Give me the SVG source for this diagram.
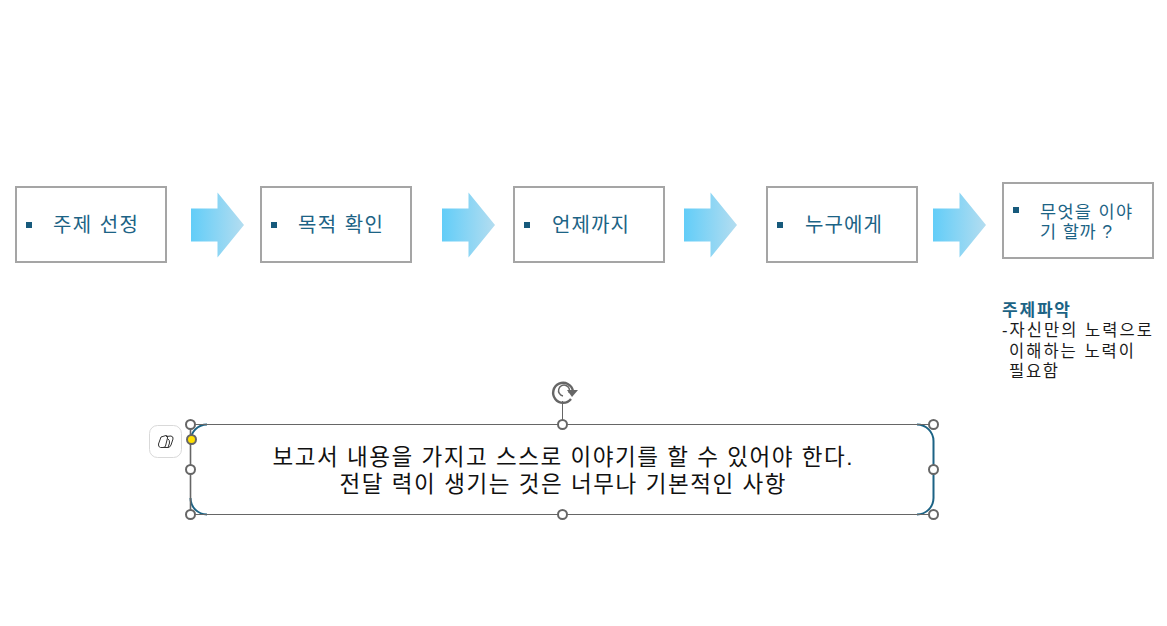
<svg xmlns="http://www.w3.org/2000/svg" width="1167" height="626" viewBox="0 0 1167 626">
<style>
text{font-family:"Liberation Sans","Noto Sans CJK KR",sans-serif}
.box{fill:#fff;stroke:#a5a5a5;stroke-width:2}
.t{font-size:20px;fill:#1c6385}
.b{fill:#175a7c}
.arrow{fill:url(#g)}
.h{fill:#fff;stroke:#666;stroke-width:2}
.n{font-size:16.5px;fill:#1a1a1a}
.m{font-size:22.5px;fill:#111;text-anchor:middle}
</style>
<defs><linearGradient id="g"><stop offset="0" stop-color="#62cdf8"/><stop offset="1" stop-color="#b4ddf0"/></linearGradient></defs>
<rect width="1167" height="626" fill="#fff"/>
<g id="connectors">
<path class="arrow" d="M191 208.500H217.500V192.500L244 225L217.500 257.500V241.500H191Z"/>
<path class="arrow" d="M442 208.500H468.500V192.500L495 225L468.500 257.500V241.500H442Z"/>
<path class="arrow" d="M684 208.500H710.500V192.500L737 225L710.500 257.500V241.500H684Z"/>
<path class="arrow" d="M933 208.500H959.500V192.500L986 225L959.500 257.500V241.500H933Z"/>
</g>
<g id="n1"><rect class="box" x="16" y="187" width="150" height="75"/><rect class="b" x="26" y="222" width="6" height="6"/><text class="t" x="53" y="232" textLength="85">주제 선정</text></g>
<g id="n2"><rect class="box" x="261" y="187" width="150" height="75"/><rect class="b" x="271" y="222" width="6" height="6"/><text class="t" x="298" y="232" textLength="85">목적 확인</text></g>
<g id="n3"><rect class="box" x="514" y="187" width="150" height="75"/><rect class="b" x="524" y="222" width="6" height="6"/><text class="t" x="552" y="232" textLength="77">언제까지</text></g>
<g id="n4"><rect class="box" x="767" y="187" width="150" height="75"/><rect class="b" x="777" y="222" width="6" height="6"/><text class="t" x="805" y="232" textLength="77">누구에게</text></g>
<g id="n5"><rect class="box" x="1003" y="183" width="150" height="75"/><rect class="b" x="1013" y="207" width="6" height="6"/><text class="t" style="font-size:17.500px" x="1040" y="218" textLength="92">무엇을 이야</text><text class="t" style="font-size:17.500px" x="1040" y="238" textLength="72">기 할까 ?</text></g>
<g id="note"><text x="1002" y="316" style="font-size:17px;font-weight:700;fill:#1c6385" textLength="68">주제파악</text><text class="n" x="1002" y="336" textLength="150">-자신만의 노력으로</text><text class="n" x="1009" y="357" textLength="125">이해하는 노력이</text><text class="n" x="1009" y="377" textLength="49">필요함</text></g>
<g id="selected">
<path fill="none" stroke="#1c6385" stroke-width="2" d="M207 424.500A16.500 16.500 0 0 0 190.500 441M190.500 498A16.500 16.500 0 0 0 207 514.500M917 514.500A16.500 16.500 0 0 0 933.500 498V441A16.500 16.500 0 0 0 917 424.500"/>
<path fill="none" stroke="#666" stroke-width="1" d="M190.500 424.500H933.500M190.500 514.500H933.500M562.500 424.500V401"/>
<path fill="none" stroke="#666" stroke-width="1.600" d="M190.500 424.500V514.500"/>
<text class="m" x="562.500" y="465" textLength="580">보고서 내용을 가지고 스스로 이야기를 할 수 있어야 한다.</text>
<text class="m" x="562.500" y="492" textLength="446">전달 력이 생기는 것은 너무나 기본적인 사항</text>
<circle class="h" cx="190.500" cy="424.500" r="4.500"/><circle class="h" cx="562.500" cy="424.500" r="4.500"/><circle class="h" cx="933.500" cy="424.500" r="4.500"/><circle class="h" cx="190.500" cy="469.500" r="4.500"/><circle class="h" cx="933.500" cy="469.500" r="4.500"/><circle class="h" cx="190.500" cy="514.500" r="4.500"/><circle class="h" cx="562.500" cy="514.500" r="4.500"/><circle class="h" cx="933.500" cy="514.500" r="4.500"/>
<circle cx="191.500" cy="439.500" r="4.500" fill="#ffe000" stroke="#666" stroke-width="2"/>
<rect x="149.500" y="425.500" width="32" height="32" rx="8" fill="#fff" stroke="#d9d9d9"/>
<g fill="none" stroke="#333" stroke-width="1"><path d="M161 437L166 435.500Q168 435.500 167.500 438L165.500 446Q165 447.500 163 447.500L160.500 447.500Q158 447 158.500 444Z"/><path d="M166 436.500L171 436Q173.500 436.500 173 439L171 445Q170 447.500 168 447.500L163 447.500M167.500 438.500Q170 440 169.500 443L168 447.500"/></g>
<g fill="none" stroke="#666"><path stroke-width="2.400" d="M571 399A10 10 0 1 1 573 391"/><path stroke-width="1.500" d="M569 393A5.500 5.500 0 1 0 563 396"/><path fill="#666" stroke="none" d="M567 390H578L572 397Z"/></g>
</g>
</svg>
